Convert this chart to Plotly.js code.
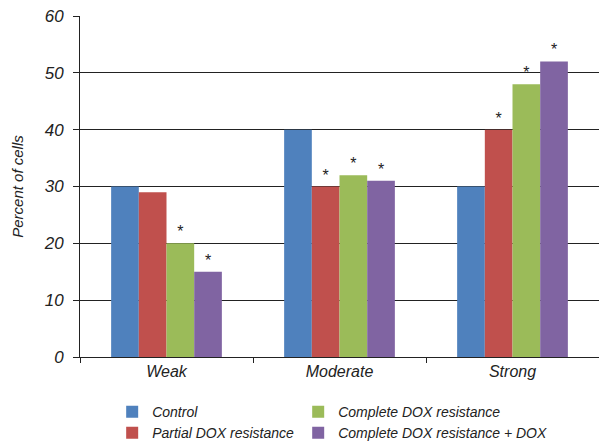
<!DOCTYPE html>
<html><head><meta charset="utf-8">
<script src="https://cdn.plot.ly/plotly-3.0.1.min.js"></script>
<style>body{margin:0;padding:0;background:#fff}#chart{width:599px;height:445px}</style>
</head><body><div id="chart"></div>
<script>
var categories = ["Weak", "Moderate", "Strong"];
var control = [30, 40, 30];
var partial = [29, 30, 40];
var complete = [20, 32, 48];
var completeDox = [15, 31, 52];
var controlSig = ["", "", ""];
var partialSig = ["", "*", "*"];
var completeSig = ["*", "*", "*"];
var completeDoxSig = ["*", "*", "*"];

var FONT = '"Liberation Sans", Arial, sans-serif';

function mk(name, y, sig, color, leg) {
  return {
    type: 'bar', name: name, x: categories, y: y, text: sig,
    textposition: 'outside', cliponaxis: false,
    textfont: {family: FONT, size: 16, color: '#222'},
    marker: {color: color, line: {width: 0}},
    legend: leg, hoverinfo: 'y'
  };
}
var data = [
  mk('Control', control, controlSig, '#4F81BD', 'legend'),
  mk('Partial DOX resistance', partial, partialSig, '#C0504D', 'legend'),
  mk('Complete DOX resistance', complete, completeSig, '#9BBB59', 'legend2'),
  mk('Complete DOX resistance + DOX', completeDox, completeDoxSig, '#8064A2', 'legend2')
];
var legFont = {family: FONT, size: 14, style: 'italic', color: '#222'};
var layout = {
  width: 599, height: 445,
  margin: {l: 80, r: 0, t: 16, b: 88, autoexpand: false},
  paper_bgcolor: '#fff', plot_bgcolor: '#fff',
  font: {family: FONT, color: '#222'},
  barmode: 'group', bargap: 0.36, bargroupgap: 0,
  showlegend: true,
  legend: {orientation: 'v', xref: 'paper', x: 0.062, xanchor: 'left',
    yref: 'container', y: 0.11, yanchor: 'top', traceorder: 'normal',
    font: legFont, itemwidth: 30, tracegroupgap: 0, bgcolor: 'rgba(0,0,0,0)'},
  legend2: {orientation: 'v', xref: 'paper', x: 0.4204, xanchor: 'left',
    yref: 'container', y: 0.11, yanchor: 'top', traceorder: 'normal',
    font: legFont, itemwidth: 30, tracegroupgap: 0, bgcolor: 'rgba(0,0,0,0)'},
  xaxis: {type: 'category', tickson: 'boundaries', ticks: 'outside', ticklen: 5,
    tickcolor: '#222', showline: true, linecolor: '#222', linewidth: 1,
    tickfont: {family: FONT, size: 16, style: 'italic', color: '#222'},
    showgrid: false},
  yaxis: {range: [0, 60], dtick: 10, ticks: 'outside', ticklen: 6, tickcolor: '#222',
    showline: true, linecolor: '#222', linewidth: 1, ticklabelstandoff: 6,
    showgrid: true, gridcolor: '#222', gridwidth: 1, zeroline: false,
    tickfont: {family: FONT, size: 17, style: 'italic', color: '#222'},
    title: {text: 'Percent of cells', standoff: 16,
      font: {family: FONT, size: 15, style: 'italic', color: '#222'}}}
};
Plotly.newPlot('chart', data, layout, {displayModeBar: false, staticPlot: true});
</script></body></html>
